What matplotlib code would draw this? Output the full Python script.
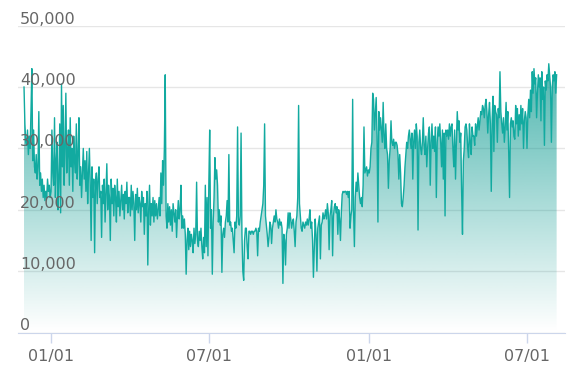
import numpy as np
import pandas as pd
import matplotlib
matplotlib.use('Agg')
import matplotlib.pyplot as plt
import matplotlib.dates as mdates
import matplotlib.transforms as mtransforms

# daily values
dec20 = [40000, 34000, 31000, 30500, 33000, 29000, 32000, 30000, 36000, 43000,
         28000, 33000, 27000, 26000, 29000, 25000, 27000, 36000, 24000, 26000,
         23000, 25000, 22000, 24000, 21500, 23000, 22000, 25000, 23000, 24000, 22000]
jan21 = [23000, 33000, 26000, 24000, 35000, 22000, 28000, 31000, 20000, 25000,
         34000, 19500, 40500, 27000, 37000, 24000, 30000, 39000, 26000, 29000,
         33000, 24000, 35000, 27000, 30000, 23000, 32000, 28000, 26000, 34000, 25000]
feb21 = [29000, 35000, 24000, 27000, 22000, 26000, 30000, 25000, 28000, 23000,
         29500, 21000, 26000, 30000, 24000, 15000, 27000, 22000, 25000, 13000,
         24500, 26000, 21000, 25000, 27000, 22000, 23000, 15500]
mar21 = [24000, 21000, 25000, 18000, 23000, 27500, 20000, 24000, 22000, 15000,
         25000, 21000, 23500, 19000, 24000, 22000, 18000, 25000, 20500, 23000,
         19000, 21500, 24000, 20000, 22500, 18500, 23000, 21000, 24500, 19500, 22000]
apr21 = [22000, 19000, 24000, 20000, 23000, 21000, 15000, 22500, 20000, 23500,
         19500, 22000, 21000, 18000, 23000, 20500, 22000, 16000, 21000, 19000,
         23000, 11000, 20000, 24000, 17500, 21000, 19000, 22000, 18000, 21500]
may21 = [19000, 21000, 18500, 20000, 22000, 19000, 26000, 21000, 28000, 24000,
         30000, 42000, 19000, 17000, 21000, 18000, 20500, 17500, 20000, 16500,
         21000, 19500, 18000, 20000, 15500, 19000, 21500, 18500, 20000, 24000, 17000]
jun21 = [19000, 17000, 18500, 16000, 9500, 15000, 17000, 13500, 16500, 14000,
         16000, 15000, 13000, 17000, 14500, 16000, 24500, 15000, 14000, 16500,
         15000, 17000, 14000, 12000, 15500, 13000, 24000, 14000, 22000, 12500]
jul21 = [24000, 33000, 17000, 20000, 9500, 18000, 22000, 28500, 25000, 26500,
         24000, 18000, 20000, 17500, 19000, 9800, 16000, 17000, 15500, 18000,
         19000, 21500, 18000, 29000, 17500, 18000, 16500, 17000, 15000, 13000, 18000]
aug21 = [17000, 19000, 33500, 18000, 17500, 19000, 32500, 16000, 10000, 8500,
         15000, 17000, 17000, 14000, 12000, 16500, 16500, 16000, 16500, 16500,
         16000, 16500, 16500, 17000, 16500, 12500, 17000, 16500, 18000, 19000, 20000]
sep21 = [21000, 24000, 34000, 19000, 17500, 16000, 14000, 15500, 18000, 17500,
         14500, 17000, 18000, 19000, 18000, 20000, 18500, 18000, 17000, 18500,
         17500, 18000, 17000, 8000, 16000, 15000, 11000, 16000, 17000, 19500]
oct21 = [17000, 19500, 18500, 17000, 18000, 18500, 16500, 14000, 18000, 19000,
         22000, 37000, 21000, 19000, 17000, 16500, 18000, 17500, 17000, 18000,
         17500, 18500, 17500, 18500, 20000, 17000, 18000, 15000, 9000, 14000, 18500]
nov21 = [16000, 10000, 17000, 18000, 19000, 12000, 17500, 18000, 19500, 18500,
         19000, 20000, 18500, 21000, 19500, 13500, 19000, 20000, 21500, 12500,
         19000, 20500, 21000, 19500, 20500, 16000, 20000, 18500, 15000, 19500]
dec21 = [22500, 23000, 22800, 23000, 23000, 22500, 23000, 22000, 23000, 17000,
         19000, 20000, 38000, 20000, 14000, 22000, 24500, 23000, 26000, 24000,
         22000, 21000, 22000, 20500, 24000, 33500, 26000, 26500, 27000, 25500, 26500]
jan22 = [26000, 27000, 30000, 31000, 39000, 38000, 33000, 35500, 38300, 32000,
         18000, 36000, 33000, 35000, 33000, 31000, 37500, 32000, 30000, 34000,
         30000, 29000, 23500, 28000, 30000, 34500, 31000, 30500, 31500, 30000, 31000]
feb22 = [31000, 30500, 29000, 25000, 29000, 26000, 21000, 20500, 22000, 24000,
         27000, 29000, 31000, 30000, 32000, 33000, 31500, 30000, 32500, 25000,
         31000, 33000, 30000, 34000, 32000, 16700, 31000, 33000]
mar22 = [30000, 29000, 31000, 35000, 30500, 29000, 32000, 27000, 30000, 32500,
         33500, 24000, 31000, 34000, 30000, 32000, 29500, 33500, 22000, 31000,
         33500, 32000, 34000, 31000, 27000, 33000, 25000, 32500, 19000, 33000, 32000]
apr22 = [33000, 31500, 34000, 32000, 33500, 34000, 30000, 27000, 33000, 25000,
         31000, 36000, 33000, 34500, 31000, 32500, 23000, 16000, 28000, 30000,
         33500, 34000, 33000, 30000, 28500, 34000, 31000, 29000, 33500, 32000]
may22 = [32000, 30500, 34000, 32000, 33500, 35000, 33000, 34500, 36000, 35500,
         37000, 36500, 35000, 37000, 38000, 36000, 32500, 35500, 37500, 34000,
         23000, 34500, 38500, 29500, 37000, 36000, 35500, 31000, 36500, 35000, 42500]
jun22 = [36000, 34000, 32500, 35000, 31000, 33500, 37500, 33000, 36000, 29500,
         22000, 34000, 35000, 33500, 34500, 32000, 31500, 37000, 34000, 36500,
         32000, 35500, 33000, 37000, 34000, 36500, 30000, 34500, 36000, 35000]
jul22 = [30000, 35500, 38000, 35000, 39500, 36000, 42500, 39000, 43000, 40500,
         41500, 35000, 39000, 42000, 40000, 41500, 34500, 42500, 38000, 40000,
         30500, 41000, 39500, 42000, 41000, 43800, 42000, 40000, 31000, 40000, 42000]
aug22 = [41000, 42500, 39000, 42000]

months = [('2020-12-01', dec20), ('2021-01-01', jan21), ('2021-02-01', feb21),
          ('2021-03-01', mar21), ('2021-04-01', apr21), ('2021-05-01', may21),
          ('2021-06-01', jun21), ('2021-07-01', jul21), ('2021-08-01', aug21),
          ('2021-09-01', sep21), ('2021-10-01', oct21), ('2021-11-01', nov21),
          ('2021-12-01', dec21), ('2022-01-01', jan22), ('2022-02-01', feb22),
          ('2022-03-01', mar22), ('2022-04-01', apr22), ('2022-05-01', may22),
          ('2022-06-01', jun22), ('2022-07-01', jul22), ('2022-08-01', aug22)]

tick_dates = ['2021-01-01', '2021-07-01', '2022-01-01', '2022-07-01']
tick_labels = ['01/01', '07/01', '01/01', '07/01']
y_ticks = [0, 10000, 20000, 30000, 40000, 50000]

dates = []
values = []
for start, vals in months:
    dates.extend(pd.date_range(start, periods=len(vals), freq='D').to_pydatetime())
    values.extend(vals)
x = mdates.date2num(dates)
values = np.array(values, dtype=float)

fig = plt.figure(figsize=(5.68, 3.84), dpi=100)
ax = fig.add_axes([18 / 568, 1 - 332.5 / 384, 547 / 568, 306.8 / 384])

x0 = mdates.date2num(pd.Timestamp('2020-12-01')) - 6.9
x1 = mdates.date2num(pd.Timestamp('2022-07-01')) + 43.6
ax.set_xlim(x0, x1)
ax.set_ylim(0, 50000)

# gradient area under the line
poly = ax.fill_between(x, values, 0, facecolor='none', edgecolor='none')
grad = np.linspace(0, 1, 256)
rgba = np.zeros((256, 1, 4))
rgba[:, 0, 0] = 0 / 255
rgba[:, 0, 1] = 150 / 255
rgba[:, 0, 2] = 140 / 255
rgba[:, 0, 3] = grad * 0.8
im = ax.imshow(rgba, extent=[x0, x1, 0, 50000], aspect='auto', origin='lower',
               zorder=2, interpolation='bilinear')
im.set_clip_path(poly.get_paths()[0], transform=ax.transData)

ax.plot(x, values, color='#12aaa0', lw=1.0, zorder=3)

# grid + axes styling
ax.set_yticks(y_ticks)
ax.yaxis.grid(True, color='#e6e6e6', lw=1)
ax.set_axisbelow(True)
ax.tick_params(axis='y', left=False, labelleft=False)
for s in ['left', 'right', 'top']:
    ax.spines[s].set_visible(False)
ax.spines['bottom'].set_color('#ccd6eb')
ax.spines['bottom'].set_zorder(4)

ax.set_xticks(mdates.date2num([pd.Timestamp(d) for d in tick_dates]))
ax.set_xticklabels(tick_labels)
ax.tick_params(axis='x', length=7, width=1, color='#ccd6eb',
               labelcolor='#666666', labelsize=11.5, pad=5)

# y labels sit inside the plot, just above each gridline
trans = mtransforms.blended_transform_factory(ax.transAxes, ax.transData)
trans = mtransforms.offset_copy(trans, fig=fig, x=2, y=2, units='dots')
for v in y_ticks:
    ax.text(0, v, f'{v:,}', transform=trans, ha='left', va='baseline',
            fontsize=11.5, color='#666666', zorder=5)

fig.savefig('out.png', dpi=100)
